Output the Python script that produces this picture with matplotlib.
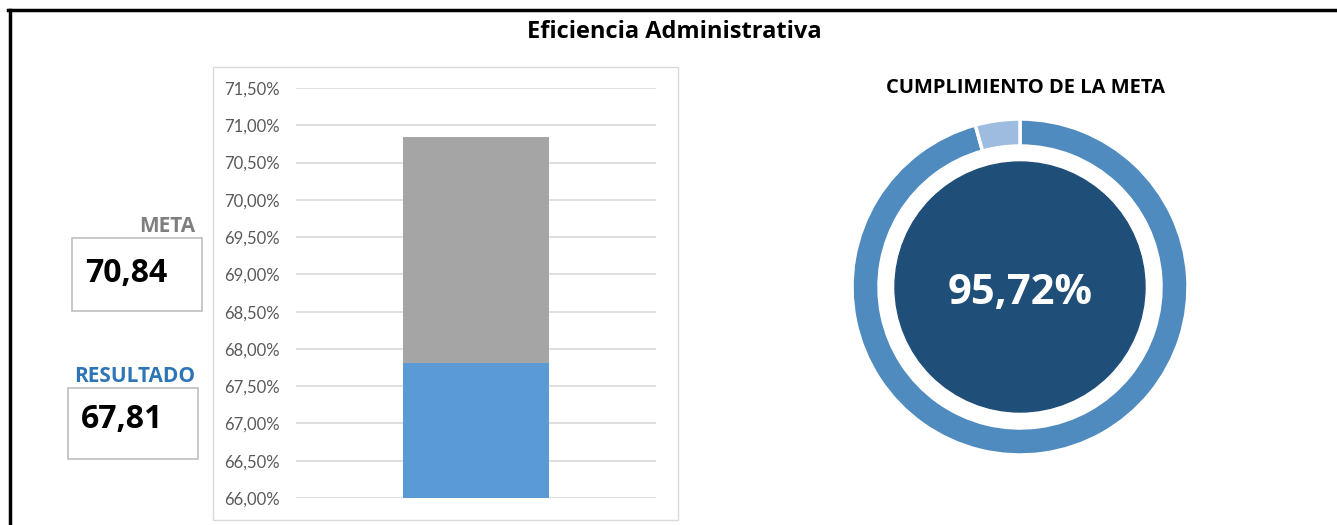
import matplotlib.pyplot as plt
from matplotlib.patches import Rectangle, Circle
from matplotlib.lines import Line2D

plt.rcParams["font.family"] = ["Lato", "DejaVu Sans"]
BOLD = ["Open Sans", "DejaVu Sans"]

# Data
meta = 70.84
resultado = 67.81
cumplimiento = [95.72, 4.28]
y_ticks = [66.0, 66.5, 67.0, 67.5, 68.0, 68.5, 69.0, 69.5, 70.0, 70.5, 71.0, 71.5]

W, H = 1337, 525
fig = plt.figure(figsize=(W / 100, H / 100), dpi=100)


def box(x0, y0, x1, y1):
    # pixel box -> figure fraction [left, bottom, width, height]
    return [x0 / W, 1 - y1 / H, (x1 - x0) / W, (y1 - y0) / H]


# Outer black frame (top and left only visible)
fig.add_artist(Line2D([8 / W, 1], [1 - 10 / H, 1 - 10 / H], color="black", lw=2.5, transform=fig.transFigure))
fig.add_artist(Line2D([10 / W, 10 / W], [0, 1 - 10 / H], color="black", lw=2.5, transform=fig.transFigure))

fig.text(674 / W, 1 - 32 / H, "Eficiencia Administrativa", ha="center", va="center",
         fontsize=17, fontweight="bold", color="black", family=BOLD)

# Bar chart frame
l, b, w, h = box(213, 67, 678, 520)
fig.add_artist(Rectangle((l, b), w, h, transform=fig.transFigure, fill=False, edgecolor="#D9D9D9", lw=1))

ax = fig.add_axes(box(296, 88, 656, 498))
ax.bar(0, meta, width=0.403, color="#A5A5A5", zorder=3)
ax.bar(0, resultado, width=0.403, color="#5B9BD5", zorder=4)
ax.set_xlim(-0.5, 0.5)
ax.set_ylim(y_ticks[0], y_ticks[-1])
ax.set_yticks(y_ticks)
ax.set_yticklabels([f"{v:.2f}%".replace(".", ",") for v in y_ticks])
ax.tick_params(axis="y", length=0, pad=12, labelsize=12, labelcolor="#595959")
ax.set_xticks([])
ax.grid(axis="y", color="#D9D9D9", lw=1.2, zorder=0)
for s in ax.spines.values():
    s.set_visible(False)
ax.set_facecolor("none")

# META / RESULTADO boxes
for (x0, y0, x1, y1) in [(72, 238, 202, 311), (68, 388, 198, 459)]:
    l, b, w, h = box(x0, y0, x1, y1)
    fig.add_artist(Rectangle((l, b), w, h, transform=fig.transFigure, fill=False, edgecolor="#BFBFBF", lw=1.2))

fig.text(195 / W, 1 - 226 / H, "META", ha="right", va="center", fontsize=15,
         fontweight="bold", color="#7F7F7F", family=BOLD)
fig.text(85 / W, 1 - 273 / H, f"{meta:.2f}".replace(".", ","), ha="left", va="center",
         fontsize=23, fontweight="bold", color="black", family=BOLD)
fig.text(195 / W, 1 - 376 / H, "RESULTADO", ha="right", va="center", fontsize=15,
         fontweight="bold", color="#2E75B6", family=BOLD)
fig.text(81 / W, 1 - 420 / H, f"{resultado:.2f}".replace(".", ","), ha="left", va="center",
         fontsize=23, fontweight="bold", color="black", family=BOLD)

# Donut
fig.text(1025 / W, 1 - 88 / H, "CUMPLIMIENTO DE LA META", ha="center", va="center",
         fontsize=14.5, fontweight="bold", color="black", family=BOLD)
axd = fig.add_axes(box(1020 - 175, 287 - 175, 1020 + 175, 287 + 175))
axd.pie(cumplimiento, colors=["#4F8BBE", "#9DBCE0"], startangle=90, counterclock=False, radius=1,
        wedgeprops=dict(width=27 / 168, edgecolor="white", linewidth=2.5))
axd.add_patch(Circle((0, 0), 125 / 168, color="#1F4E79"))
axd.text(0, -0.04, f"{cumplimiento[0]:.2f}%".replace(".", ","), ha="center", va="center",
         fontsize=30, fontweight="bold", color="white", family=BOLD)
axd.set_xlim(-175 / 168, 175 / 168)
axd.set_ylim(-175 / 168, 175 / 168)
axd.set_aspect("equal")
axd.axis("off")

plt.savefig("out.png", dpi=100)
